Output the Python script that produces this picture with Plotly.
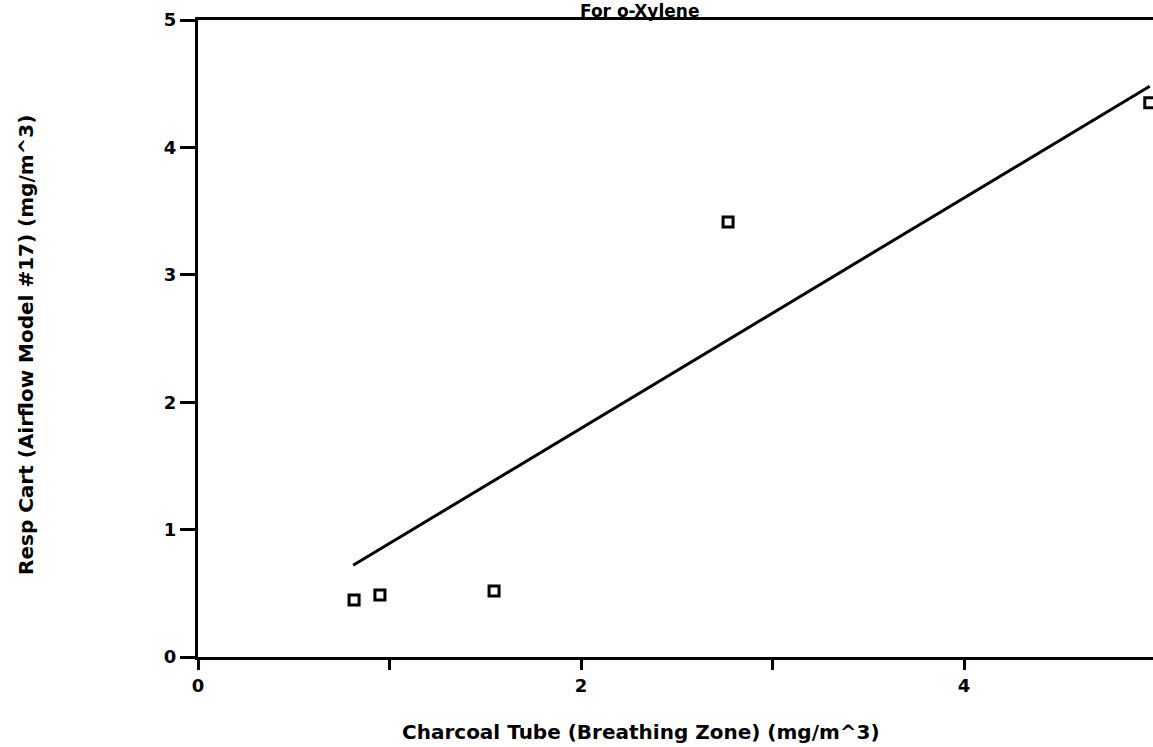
import plotly.graph_objects as go

# Data
charcoal_tube = [0.815, 0.95, 1.546, 2.768, 4.97]
resp_cart = [0.447, 0.487, 0.518, 3.414, 4.35]
fit_x = [0.81, 4.97]
fit_y = [0.72, 4.48]

x_tickvals = [0, 1, 2, 3, 4]
x_ticktext = ["0", "", "2", "", "4"]
y_tickvals = [0, 1, 2, 3, 4, 5]

title_text = "For o-Xylene"
x_title = "Charcoal Tube (Breathing Zone) (mg/m^3)"
y_title = "Resp Cart (Airflow Model #17) (mg/m^3)"

FONT = "DejaVu Sans"

fig = go.Figure()
fig.add_trace(go.Scatter(x=fit_x, y=fit_y, mode="lines",
                         line=dict(color="black", width=3), showlegend=False))
fig.add_trace(go.Scatter(x=charcoal_tube, y=resp_cart, mode="markers",
                         marker=dict(symbol="square-open", size=10, color="black",
                                     line=dict(color="black", width=3)),
                         showlegend=False))

W, H = 1153, 747
L, R, T, B = 198, 0, 20, 90
fig.update_layout(
    width=W, height=H,
    margin=dict(l=L, r=R, t=T, b=B, pad=0),
    paper_bgcolor="white", plot_bgcolor="white",
    font=dict(family=FONT, color="black", size=18, weight="bold"),
    xaxis=dict(range=[0, 955 / 191.5], tickvals=x_tickvals, ticktext=x_ticktext,
               showgrid=False, zeroline=False, showline=True, linecolor="black",
               linewidth=3, mirror=True, ticks="outside", ticklen=10, tickwidth=3,
               tickcolor="black", tickfont=dict(size=18, family=FONT, weight="bold")),
    yaxis=dict(range=[0, 5], tickvals=y_tickvals,
               showgrid=False, zeroline=False, showline=True, linecolor="black",
               linewidth=3, ticks="outside", ticklen=15, tickwidth=3,
               tickcolor="black", tickfont=dict(size=18, family=FONT, weight="bold")),
    annotations=[
        dict(text=title_text, xref="paper", yref="paper", x=0.4628, y=1.0314,
             xanchor="center", yanchor="top", showarrow=False, borderpad=0,
             font=dict(size=17, family=FONT, weight="bold")),
        dict(text=x_title, xref="paper", yref="paper", x=0.4639, y=-0.1177,
             xanchor="center", yanchor="middle", showarrow=False,
             font=dict(size=20, family=FONT, weight="bold")),
        dict(text=y_title, xref="paper", yref="paper", x=-0.180, y=0.49,
             xanchor="center", yanchor="middle", showarrow=False, textangle=-90,
             font=dict(size=20, family=FONT, weight="bold")),
    ],
)

fig.write_html("out.html", config={"displayModeBar": False},
               post_script="document.body.style.margin='0';document.body.style.overflow='hidden';")
